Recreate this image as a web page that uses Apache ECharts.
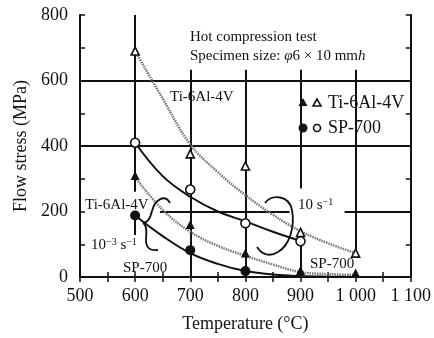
<!DOCTYPE html>
<html>
<head>
<meta charset="utf-8">
<script src="https://cdn.jsdelivr.net/npm/echarts@6/dist/echarts.min.js"></script>
<style>
html, body { margin: 0; padding: 0; background: #fff; }
#chart { width: 434px; height: 338px; }
</style>
</head>
<body>
<div id="chart"></div>
<script>
// measured points (temperature, flow stress)
const temps = [600, 700, 800, 900, 1000];
const tiFastPts = [690, 376, 339, 136, 73];   // open triangles, 10 s^-1
const tiSlowPts = [310, 160, 73, 20, 12];     // filled triangles, 10^-3 s^-1
const spFastPts = [410, 267, 164, 109];       // open circles, 10 s^-1 (to 900)
const spSlowPts = [188, 82, 18];              // filled circles, 10^-3 s^-1 (rest hidden on the axis)

// fitted curves
const curveTemps = [600, 650, 700, 750, 800, 850, 900, 950, 1000];
const tiFastCurve = [690, 545, 405, 320, 250, 190, 140, 103, 73];
const tiSlowCurve = [305, 205, 138, 95, 65, 38, 15, 9, 6];
const spFastCurve = [410, 308, 245, 200, 170, 138, 110];
const spSlowCurve = [188, 125, 73, 40, 18, 8, 3, 1, 0];

// thick guide lines of the figure (data coords)
const guideLines = [
	[[500, 600], [1100, 600]],
	[[500, 400], [1100, 400]],
	[[645, 200], [880, 200]],
	[[980, 200], [1100, 200]],
	[[600, 800], [600, 260]],
	[[600, 200], [600, 128]],
	[[700, 633], [700, 0]],
	[[800, 633], [800, 0]],
	[[900, 633], [900, 270]],
	[[900, 148], [900, 0]],
	[[1000, 633], [1000, 73]]
];

const xTicks = [500, 600, 700, 800, 900, 1000, 1100];
const yTicks = [0, 200, 400, 600, 800];

const pair = (xs, ys) => ys.map((v, i) => [xs[i], v]);
const serif = 'Liberation Serif';
const txt = (x, y, text, size, rich) => ({
	type: 'text', x: x, y: y, z: 10,
	style: { text: text, font: size + 'px "' + serif + '"', fill: '#111',
		textVerticalAlign: 'middle', rich: rich }
});
const supRich = {
	sup: { fontSize: 10, fontFamily: serif, verticalAlign: 'top', lineHeight: 12, fill: '#111' }
};
// a brace drawn as a chain of cubic curves: [x, y, c1x, c1y, c2x, c2y, ...]
const brace = (pts) => {
	const out = [];
	for (let i = 0; i + 6 < pts.length; i += 6) {
		out.push({
			type: 'bezierCurve', z: 10,
			shape: { x1: pts[i], y1: pts[i + 1], cpx1: pts[i + 2], cpy1: pts[i + 3],
				cpx2: pts[i + 4], cpy2: pts[i + 5], x2: pts[i + 6], y2: pts[i + 7] },
			style: { fill: 'none', stroke: '#111', lineWidth: 1.8 }
		});
	}
	return out;
};

const chart = echarts.init(document.getElementById('chart'));
const axisLine = { lineStyle: { color: '#111', width: 2 } };

chart.setOption({
	animation: false,
	backgroundColor: '#fff',
	grid: { left: 80, right: 22, top: 15, bottom: 59 },
	xAxis: [{
		type: 'value', min: xTicks[0], max: xTicks[xTicks.length - 1], interval: 100,
		axisLine: axisLine,
		axisTick: { inside: true, length: 5, lineStyle: { color: '#111', width: 1.5 } },
		minorTick: { show: true, splitNumber: 2, length: 5, lineStyle: { color: '#111', width: 1.5 } },
		splitLine: { show: false },
		axisLabel: {
			margin: 10, color: '#111', fontFamily: serif, fontSize: 18,
			formatter: v => v >= 1000 ? Math.floor(v / 1000) + ' ' + String(v % 1000).padStart(3, '0') : String(v)
		},
		name: 'Temperature (°C)', nameLocation: 'middle', nameGap: 38,
		nameTextStyle: { color: '#111', fontFamily: serif, fontSize: 18 }
	}, {
		type: 'value', position: 'top', min: 500, max: 1100, interval: 50,
		axisLine: axisLine,
		axisTick: { inside: true, length: 5, lineStyle: { color: '#111', width: 1.5 } },
		axisLabel: { show: false }, splitLine: { show: false }
	}],
	yAxis: [{
		type: 'value', min: yTicks[0], max: yTicks[yTicks.length - 1], interval: 200,
		axisLine: { show: true, lineStyle: { color: '#111', width: 2 } },
		axisTick: { show: true, inside: true, length: 5, lineStyle: { color: '#111', width: 1.5 } },
		minorTick: { show: true, splitNumber: 2, length: 5, lineStyle: { color: '#111', width: 1.5 } },
		splitLine: { show: false },
		axisLabel: { margin: 12, color: '#111', fontFamily: serif, fontSize: 18 },
		name: 'Flow stress (MPa)', nameLocation: 'middle', nameGap: 48, nameRotate: 90,
		nameTextStyle: { color: '#111', fontFamily: serif, fontSize: 18 }
	}, {
		type: 'value', position: 'right', min: 0, max: 800, interval: 100,
		axisLine: { show: true, lineStyle: { color: '#111', width: 2 } },
		axisTick: { show: true, inside: true, length: 5, lineStyle: { color: '#111', width: 1.5 } },
		axisLabel: { show: false }, splitLine: { show: false }
	}],
	series: [
		{
			type: 'lines', coordinateSystem: 'cartesian2d', silent: true, z: 1,
			lineStyle: { color: '#111', width: 2, opacity: 1 },
			data: guideLines.map(c => ({ coords: c }))
		},
		{
			type: 'line', smooth: 0.4, showSymbol: false, z: 2,
			lineStyle: { color: '#777', width: 2.5, type: [1.5, 1] },
			data: pair(curveTemps, tiFastCurve)
		},
		{
			type: 'line', smooth: 0.4, showSymbol: false, z: 2,
			lineStyle: { color: '#777', width: 2.5, type: [1.5, 1] },
			data: pair(curveTemps, tiSlowCurve)
		},
		{
			type: 'line', smooth: 0.4, showSymbol: false, z: 3,
			lineStyle: { color: '#111', width: 2 },
			data: pair(curveTemps, spFastCurve)
		},
		{
			type: 'line', smooth: 0.4, showSymbol: false, z: 3,
			lineStyle: { color: '#111', width: 2 },
			data: pair(curveTemps, spSlowCurve)
		},
		{
			type: 'scatter', symbol: 'triangle', symbolSize: 8, z: 5,
			itemStyle: { color: '#fff', borderColor: '#111', borderWidth: 1.6, opacity: 1 },
			data: pair(temps, tiFastPts)
		},
		{
			type: 'scatter', symbol: 'triangle', symbolSize: 9, z: 5,
			itemStyle: { color: '#111', opacity: 1 },
			data: pair(temps, tiSlowPts)
		},
		{
			type: 'scatter', symbol: 'circle', symbolSize: 9, z: 5,
			itemStyle: { color: '#fff', borderColor: '#111', borderWidth: 1.6, opacity: 1 },
			data: pair(temps, spFastPts)
		},
		{
			type: 'scatter', symbol: 'circle', symbolSize: 10, z: 5,
			itemStyle: { color: '#111', opacity: 1 },
			data: pair(temps, spSlowPts)
		}
	],
	graphic: [
		txt(190, 37, 'Hot compression test', 15),
		txt(190, 56, 'Specimen size: {i|φ}6 × 10 mm{i|h}', 15,
			{ i: { fontStyle: 'italic', fontSize: 15, fontFamily: serif, fill: '#111' } }),
		txt(170, 97, 'Ti-6Al-4V', 15),
		txt(85, 205, 'Ti-6Al-4V', 15),
		txt(91, 245, '10{sup|−3} s{sup|−1}', 15, supRich),
		txt(123, 268, 'SP-700', 15),
		txt(298, 205, '10 s{sup|−1}', 15, supRich),
		txt(310, 264, 'SP-700', 15),
		// legend
		{ type: 'polygon', z: 10, shape: { points: [[303, 98], [298.5, 106], [307.5, 106]] }, style: { fill: '#111' } },
		{ type: 'polygon', z: 10, shape: { points: [[317, 99], [313, 106], [321, 106]] }, style: { fill: '#fff', stroke: '#111', lineWidth: 1.6 } },
		{ type: 'circle', z: 10, shape: { cx: 303, cy: 128, r: 4.5 }, style: { fill: '#111' } },
		{ type: 'circle', z: 10, shape: { cx: 317, cy: 128, r: 3.5 }, style: { fill: '#fff', stroke: '#111', lineWidth: 1.6 } },
		txt(328, 103, 'Ti-6Al-4V', 18),
		txt(328, 128, 'SP-700', 18),
		// strain-rate braces
		...brace([170, 203, 165, 194, 155, 199, 152, 211, 150, 219, 148, 222, 143, 223,
			148, 226, 146, 234, 146, 240, 146, 248, 150, 251, 158, 250]),
		...brace([265, 203, 272, 194, 289, 195, 292, 210, 295, 226, 290, 245, 278, 252,
			270, 257, 262, 255, 257, 247])
	]
});
</script>
</body>
</html>
